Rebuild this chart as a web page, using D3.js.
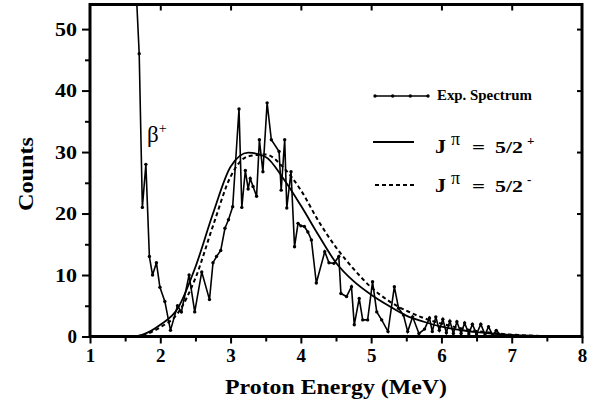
<!DOCTYPE html>
<html>
<head>
<meta charset="utf-8">
<script src="https://cdn.jsdelivr.net/npm/d3@7"></script>
<style>
  body { margin: 0; background: #fff; }
  svg { display: block; background: #fff; }
  text { font-family: "Liberation Serif", "Times New Roman", serif; fill: #000; }
</style>
</head>
<body>
<svg id="chart" width="605" height="413"></svg>
<script>
// measured spectrum (MeV, counts)
const expEnergy = [1.65, 1.70, 1.745, 1.795, 1.845, 1.89, 1.945, 1.995, 2.065, 2.145,
  2.245, 2.30, 2.41, 2.49, 2.59, 2.70, 2.75, 2.80, 2.86, 2.92, 2.97, 3.03, 3.12, 3.16,
  3.21, 3.25, 3.28, 3.32, 3.37, 3.41, 3.46, 3.52, 3.58, 3.69, 3.72, 3.77, 3.80, 3.86,
  3.91, 3.96, 4.00, 4.05, 4.10, 4.15, 4.22, 4.34, 4.40, 4.47, 4.54, 4.57, 4.65, 4.72,
  4.76, 4.83, 4.88, 4.95, 5.02, 5.08, 5.15, 5.24, 5.33, 5.39, 5.46, 5.52, 5.59, 5.68,
  5.76, 5.83, 5.87, 5.92, 5.97, 6.02, 6.07, 6.12, 6.17, 6.22, 6.28, 6.33, 6.39, 6.44,
  6.50, 6.56, 6.62, 6.67, 6.73, 6.78, 6.85];
const expCounts = [58, 46, 21, 28, 13, 10, 12, 8, 5.7, 1.0,
  5.0, 4.0, 10, 4, 10.5, 6, 12, 13, 14, 17.6, 19, 21.1, 37, 21,
  27, 24, 25.7, 24.4, 22.8, 32, 26.8, 38, 32, 30.1, 23.8, 32, 20.9, 26.8,
  14.6, 18.4, 18, 17.9, 17, 15.7, 8.7, 13.8, 12, 11.9, 13, 7.0, 6.5, 8.1,
  1.9, 6.2, 2.7, 2.7, 8.9, 4.0, 2.7, 0.8, 8.1, 4.6, 3.5, 0.8, 3.2, 0.5,
  1.2, 3.0, 0.8, 3.2, 1.0, 2.8, 0.6, 2.5, 0.5, 2.4, 0.5, 2.2, 0.4, 2.0,
  0.4, 2.0, 0.3, 1.6, 0.2, 1.0, 0.1];

// calculated spectra
const fitEnergy = [1.65, 1.75, 2.0, 2.25, 2.5, 2.75, 3.0, 3.25, 3.5, 3.75, 4.0, 4.25,
  4.5, 4.75, 5.0, 5.25, 5.5, 5.75, 6.0, 6.25, 6.5, 6.75, 7.0, 7.25, 7.5, 7.75, 8.0];
const fitPlus = [0, 0.3, 1.9, 4.6, 11.3, 20, 27.6, 29.9, 29.2, 25.7, 21.3, 16.5,
  12, 9, 6.8, 5.0, 3.4, 2.4, 1.6, 1.1, 0.7, 0.45, 0.25, 0.12, 0.05, 0.02, 0];
const fitMinus = [0, 0.2, 1.5, 3.8, 9.5, 18, 26, 29.3, 29.6, 27.5, 23.8, 18.8,
  14.5, 11, 8, 5.8, 4.2, 3.0, 2.1, 1.4, 0.9, 0.55, 0.3, 0.15, 0.05, 0.02, 0];

const xTicks = [1, 2, 3, 4, 5, 6, 7, 8];
const xMinor = [1.5, 2.5, 3.5, 4.5, 5.5, 6.5, 7.5];
const yTicks = [0, 10, 20, 30, 40, 50];
const yMinor = [5, 15, 25, 35, 45];

const svg = d3.select("#chart");
const pLeft = 90, pRight = 582, pTop = 4.5, pBottom = 336.5;
const serif = '"Liberation Serif", "Times New Roman", serif';

const x = d3.scaleLinear().domain([1, 8]).range([pLeft, pRight]);
const y = d3.scaleLinear().domain([0, 54]).range([pBottom, pTop]);

svg.append("defs").append("clipPath").attr("id", "plotClip")
  .append("rect")
  .attr("x", pLeft).attr("y", pTop)
  .attr("width", pRight - pLeft).attr("height", pBottom - pTop);

// axes
function styleAxis(g) {
  g.select(".domain").remove();
  g.selectAll(".tick line").attr("stroke", "#000").attr("stroke-width", 2);
  g.selectAll(".tick text")
    .attr("font-size", 19).attr("font-weight", "bold")
    .attr("fill", "#000")
    .style("font-family", serif);
}

svg.append("g")
  .attr("transform", `translate(0,${pBottom})`)
  .call(d3.axisBottom(x).tickValues(xTicks).tickSize(7).tickPadding(5).tickFormat(d3.format("d")))
  .call(styleAxis);
svg.append("g")
  .attr("transform", `translate(0,${pBottom})`)
  .call(d3.axisBottom(x).tickValues(xMinor).tickSize(5).tickFormat(""))
  .call(styleAxis);

svg.append("g")
  .attr("transform", `translate(${pLeft},0)`)
  .call(d3.axisLeft(y).tickValues(yTicks).tickSize(8).tickPadding(5).tickFormat(d3.format("d")))
  .call(styleAxis)
  .selectAll(".tick text")
  .attr("textLength", d => d >= 10 ? 22 : null)
  .attr("lengthAdjust", "spacingAndGlyphs");
svg.append("g")
  .attr("transform", `translate(${pLeft},0)`)
  .call(d3.axisLeft(y).tickValues(yMinor).tickSize(5).tickFormat(""))
  .call(styleAxis);

// top and right: ticks pointing inward
svg.append("g")
  .attr("transform", `translate(0,${pTop})`)
  .call(d3.axisTop(x).tickValues(xTicks.slice(1, -1)).tickSize(-6).tickFormat(""))
  .call(styleAxis);
svg.append("g")
  .attr("transform", `translate(${pRight},0)`)
  .call(d3.axisRight(y).tickValues(yTicks.slice(1)).tickSize(-5).tickFormat(""))
  .call(styleAxis);

// curves
const plot = svg.append("g").attr("clip-path", "url(#plotClip)");

const fitLine = vals => d3.line()
  .x((d, i) => x(fitEnergy[i]))
  .y((d, i) => y(vals[i]))
  .curve(d3.curveMonotoneX)(vals);

plot.append("path")
  .attr("d", fitLine(fitMinus))
  .attr("fill", "none").attr("stroke", "#000")
  .attr("stroke-width", 2).attr("stroke-dasharray", "4,3");

plot.append("path")
  .attr("d", fitLine(fitPlus))
  .attr("fill", "none").attr("stroke", "#000").attr("stroke-width", 1.8);

const expPts = expEnergy.map((e, i) => [e, expCounts[i]]);
plot.append("path")
  .datum(expPts)
  .attr("d", d3.line().x(d => x(d[0])).y(d => y(d[1])))
  .attr("fill", "none").attr("stroke", "#000").attr("stroke-width", 1.6);

plot.selectAll("circle.exp")
  .data(expPts)
  .join("circle")
  .attr("class", "exp")
  .attr("cx", d => x(d[0])).attr("cy", d => y(d[1]))
  .attr("r", 1.7).attr("fill", "#000");

// frame
svg.append("rect")
  .attr("x", pLeft).attr("y", pTop)
  .attr("width", pRight - pLeft).attr("height", pBottom - pTop)
  .attr("fill", "none").attr("stroke", "#000").attr("stroke-width", 3);

// beta+ label
const beta = svg.append("text")
  .attr("x", 147).attr("y", 142)
  .attr("font-size", 23).attr("fill", "#000");
beta.append("tspan").text("β");
beta.append("tspan").attr("font-size", 14).attr("dy", -9).text("+");

// axis titles
svg.append("text")
  .attr("x", (pLeft + pRight) / 2).attr("y", 394)
  .attr("text-anchor", "middle")
  .attr("font-size", 22).attr("font-weight", "bold")
  .attr("textLength", 222).attr("lengthAdjust", "spacingAndGlyphs")
  .text("Proton Energy (MeV)");

svg.append("text")
  .attr("transform", "translate(33,174) rotate(-90)")
  .attr("text-anchor", "middle")
  .attr("font-size", 22).attr("font-weight", "bold")
  .attr("textLength", 74).attr("lengthAdjust", "spacingAndGlyphs")
  .text("Counts");

// legend
const leg = svg.append("g");
leg.append("line")
  .attr("x1", 375).attr("x2", 428).attr("y1", 96).attr("y2", 96)
  .attr("stroke", "#000").attr("stroke-width", 1.6);
leg.selectAll("circle")
  .data([375, 392.7, 410.3, 428])
  .join("circle")
  .attr("cx", d => d).attr("cy", 96).attr("r", 1.7).attr("fill", "#000");
leg.append("text")
  .attr("x", 437).attr("y", 100)
  .attr("font-size", 14).attr("font-weight", "bold")
  .attr("textLength", 95).attr("lengthAdjust", "spacingAndGlyphs")
  .text("Exp. Spectrum");

leg.append("line")
  .attr("x1", 373).attr("x2", 414).attr("y1", 142).attr("y2", 142)
  .attr("stroke", "#000").attr("stroke-width", 1.8);
leg.append("line")
  .attr("x1", 375).attr("x2", 415).attr("y1", 185).attr("y2", 185)
  .attr("stroke", "#000").attr("stroke-width", 2).attr("stroke-dasharray", "4,3");

function jLabel(yBase, sign) {
  const g = leg.append("g").attr("font-weight", "bold");
  g.append("text").attr("x", 435).attr("y", yBase).attr("font-size", 18)
    .attr("textLength", 11).attr("lengthAdjust", "spacingAndGlyphs").text("J");
  g.append("text").attr("x", 451).attr("y", yBase - 8)
    .attr("font-size", 18).attr("font-weight", "normal").text("π");
  g.append("text").attr("x", 472).attr("y", yBase).attr("font-size", 17)
    .attr("textLength", 13).attr("lengthAdjust", "spacingAndGlyphs").text("=");
  g.append("text").attr("x", 495).attr("y", yBase).attr("font-size", 17)
    .attr("textLength", 28).attr("lengthAdjust", "spacingAndGlyphs").text("5/2");
  g.append("text").attr("x", 527).attr("y", yBase - 8).attr("font-size", 13).text(sign);
}
jLabel(153, "+");
jLabel(192, "-");
</script>
</body>
</html>
